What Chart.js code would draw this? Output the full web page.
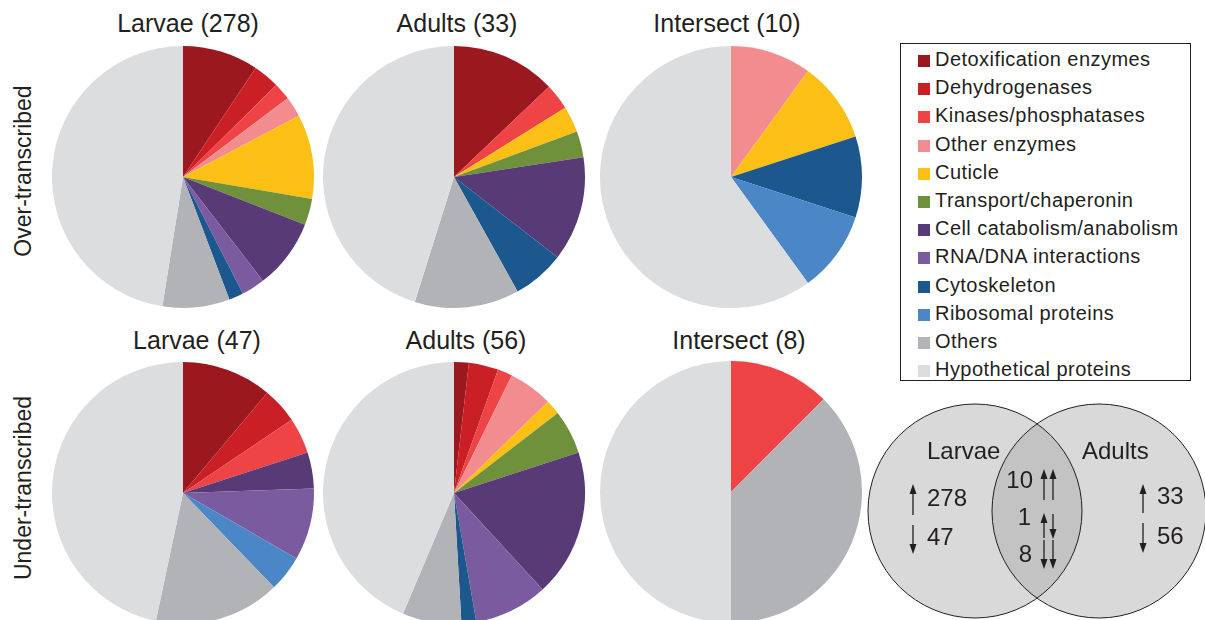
<!DOCTYPE html>
<html>
<head>
<meta charset="utf-8">
<script src="https://cdn.jsdelivr.net/npm/chart.js@4"></script>
<style>
    body { margin: 0; width: 1205px; height: 620px; overflow: hidden; background: #fff; font-family: "Liberation Sans", Arial, sans-serif; color: #231f20; }
    .pie { position: absolute; width: 264px; height: 264px; }
    .title { position: absolute; font-size: 25px; white-space: nowrap; transform: translate(-50%, -50%); }
    .rowlabel { position: absolute; font-size: 23px; white-space: nowrap; transform: translate(-50%, -50%) rotate(-90deg); }
    #legend { position: absolute; left: 900px; top: 43px; width: 291px; height: 338px; border: 1px solid #231f20; box-sizing: border-box; }
    .item { position: absolute; left: 17px; font-size: 20px; letter-spacing: 0.45px; white-space: nowrap; line-height: 20px; }
    .swatch { display: inline-block; width: 12px; height: 12px; margin-right: 5px; vertical-align: -1px; }
    #venn { position: absolute; left: 860px; top: 390px; }
</style>
</head>
<body>

<div class="rowlabel" style="left:23px; top:171px;">Over-transcribed</div>
<div class="rowlabel" style="left:23px; top:488px;">Under-transcribed</div>

<canvas id="pie1" class="pie"></canvas>
<canvas id="pie2" class="pie"></canvas>
<canvas id="pie3" class="pie"></canvas>
<canvas id="pie4" class="pie"></canvas>
<canvas id="pie5" class="pie"></canvas>
<canvas id="pie6" class="pie"></canvas>

<div id="legend"></div>
<canvas id="venn" width="345" height="230"></canvas>

<script>
// categories and colours
const categories = [
    'Detoxification enzymes', 'Dehydrogenases', 'Kinases/phosphatases', 'Other enzymes',
    'Cuticle', 'Transport/chaperonin', 'Cell catabolism/anabolism', 'RNA/DNA interactions',
    'Cytoskeleton', 'Ribosomal proteins', 'Others', 'Hypothetical proteins'
];
const colors = [
    '#9b181e', '#cb1f26', '#ee4445', '#f38c8f',
    '#fbbf15', '#6f913b', '#583b76', '#7b5b9f',
    '#1c578d', '#4b87c7', '#b2b3b6', '#dcdddf'
];

// gene counts per category
const larvaeOver  = [26, 9, 6, 7, 29, 9, 24, 8, 5, 0, 23, 132];
const adultsOver  = [4, 0, 1, 0, 1, 1, 4, 0, 2, 0, 4, 14];
const interOver   = [0, 0, 0, 1, 1, 0, 0, 0, 1, 1, 0, 6];
const larvaeUnder = [5, 2, 2, 0, 0, 0, 2, 4, 0, 2, 7, 21];
const adultsUnder = [1, 2, 1, 3, 1, 3, 10, 5, 1, 0, 4, 24];
const interUnder  = [0, 0, 1, 0, 0, 0, 0, 0, 0, 0, 3, 4];

const pieTitles = ['Larvae (278)', 'Adults (33)', 'Intersect (10)', 'Larvae (47)', 'Adults (56)', 'Intersect (8)'];

// venn numbers
const vennLarvae = [278, 47];
const vennAdults = [33, 56];
const vennShared = [10, 1, 8];

const pies = [
    { id: 'pie1', data: larvaeOver,  cx: 183, cy: 177, tx: 188, ty: 23 },
    { id: 'pie2', data: adultsOver,  cx: 454, cy: 177, tx: 457, ty: 23 },
    { id: 'pie3', data: interOver,   cx: 731, cy: 177, tx: 727, ty: 23 },
    { id: 'pie4', data: larvaeUnder, cx: 183, cy: 493, tx: 197, ty: 340 },
    { id: 'pie5', data: adultsUnder, cx: 454, cy: 493, tx: 466, ty: 340 },
    { id: 'pie6', data: interUnder,  cx: 731, cy: 492, tx: 739, ty: 340 }
];

pies.forEach((p, i) => {
    const canvas = document.getElementById(p.id);
    canvas.style.left = (p.cx - 132) + 'px';
    canvas.style.top = (p.cy - 132) + 'px';

    const t = document.createElement('div');
    t.className = 'title';
    t.textContent = pieTitles[i];
    t.style.left = p.tx + 'px';
    t.style.top = p.ty + 'px';
    document.body.appendChild(t);

    new Chart(canvas.getContext('2d'), {
        type: 'pie',
        data: {
            labels: categories,
            datasets: [{
                data: p.data,
                backgroundColor: colors,
                borderWidth: 0,
                offset: 0,
                hoverOffset: 0
            }]
        },
        options: {
            responsive: false,
            animation: false,
            radius: 131,
            layout: { padding: 0 },
            plugins: {
                legend: { display: false },
                tooltip: { enabled: false }
            }
        }
    });
});

// legend box
const legend = document.getElementById('legend');
categories.forEach((c, i) => {
    const row = document.createElement('div');
    row.className = 'item';
    row.style.top = (5 + i * 28.2) + 'px';
    row.innerHTML = '<span class="swatch" style="background:' + colors[i] + '"></span>' + c;
    legend.appendChild(row);
});

// venn diagram
const vc = document.getElementById('venn');
const g = vc.getContext('2d');
const left = { x: 115, y: 121, r: 107 };
const right = { x: 239, y: 121, r: 107 };

g.fillStyle = '#d9d9d9';
g.beginPath(); g.arc(left.x, left.y, left.r, 0, Math.PI * 2); g.fill();
g.beginPath(); g.arc(right.x, right.y, right.r, 0, Math.PI * 2); g.fill();
g.save();
g.beginPath(); g.arc(left.x, left.y, left.r, 0, Math.PI * 2); g.clip();
g.fillStyle = '#c3c3c3';
g.beginPath(); g.arc(right.x, right.y, right.r, 0, Math.PI * 2); g.fill();
g.restore();
g.strokeStyle = '#231f20';
g.lineWidth = 1;
g.beginPath(); g.arc(left.x, left.y, left.r, 0, Math.PI * 2); g.stroke();
g.beginPath(); g.arc(right.x, right.y, right.r, 0, Math.PI * 2); g.stroke();

function arrow(x, y1, y2) {
    // draws from y1 to y2, head at y2
    const dir = y2 > y1 ? 1 : -1;
    g.strokeStyle = '#231f20';
    g.fillStyle = '#231f20';
    g.lineWidth = 1.3;
    g.beginPath();
    g.moveTo(x, y1);
    g.lineTo(x, y2 - dir * 8);
    g.stroke();
    g.beginPath();
    g.moveTo(x, y2);
    g.lineTo(x - 3.5, y2 - dir * 10);
    g.lineTo(x + 3.5, y2 - dir * 10);
    g.closePath();
    g.fill();
}

g.fillStyle = '#231f20';
g.textBaseline = 'middle';
g.font = '24px "Liberation Sans", Arial, sans-serif';
g.textAlign = 'left';
g.fillText('Larvae', 67, 62);
g.fillText('Adults', 222, 62);

g.font = '24px "Liberation Sans", Arial, sans-serif';
g.fillText(String(vennLarvae[0]), 67, 109);
g.fillText(String(vennLarvae[1]), 67, 148);
g.fillText(String(vennAdults[0]), 297, 107);
g.fillText(String(vennAdults[1]), 297, 147);
g.textAlign = 'right';
g.fillText(String(vennShared[0]), 173, 91);
g.fillText(String(vennShared[1]), 171, 128);
g.fillText(String(vennShared[2]), 172, 165);

arrow(53, 125, 94);
arrow(53, 135, 164);
arrow(283, 123, 94);
arrow(283, 133, 163);
arrow(184, 110, 79);
arrow(193, 110, 79);
arrow(184, 148, 123);
arrow(193, 124, 149);
arrow(184, 150, 179);
arrow(193, 150, 179);
</script>
</body>
</html>
